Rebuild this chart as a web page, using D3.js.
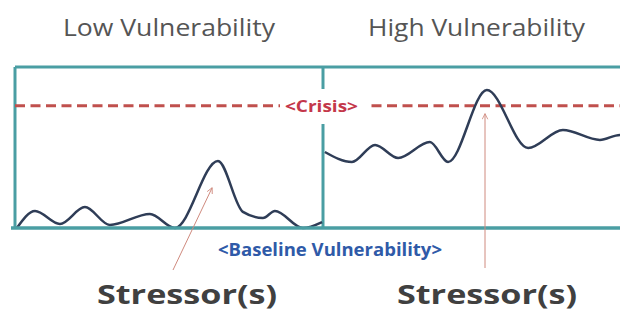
<!DOCTYPE html>
<html>
<head>
<meta charset="utf-8">
<script src="https://cdn.jsdelivr.net/npm/d3@7"></script>
<style>
  body { margin: 0; background: #fff; }
  svg { display: block; }
</style>
</head>
<body>
<svg id="chart"></svg>
<script>
// panel titles
const titles = ['Low Vulnerability', 'High Vulnerability'];

// low vulnerability trace (time 0-100)
const lowT = [0.6, 6.5, 14.6, 22.7, 30.8, 43.8, 51.9, 65.9, 74, 80.5, 84.4, 93.5, 99.7];
const lowV = [0, 10.6, 2.5, 13, 1.9, 8.7, 0, 41.6, 10, 6.2, 10.6, 0, 3.7];

// high vulnerability trace (time 100-200)
const highT = [100.6, 109.4, 116.9, 124.4, 134.7, 140.6, 153.2, 166.6, 177.9, 189.9, 196.4, 200];
const highV = [47.2, 41, 51.6, 43.5, 53.4, 41, 85.7, 49.7, 60.9, 54.7, 57.8, 55];

const crisisLevel = 76;

// stressor arrows point at these spots
const stressorT = [64, 152.6];
const stressorV = [25, 71];

const W = 620, H = 313;
const svg = d3.select('#chart').attr('width', W).attr('height', H);

const xscale = d3.scaleLinear().domain([0, 200]).range([15, 631]);
const yscale = d3.scaleLinear().domain([0, 100]).range([228, 67]);

const teal = '#4a9ea3';
const navy = '#2f3d57';
const arrowCol = '#cf8a7e';

svg.append('defs').append('marker')
      .attr('id', 'head')
      .attr('viewBox', '0 0 10 10')
      .attr('refX', 9).attr('refY', 5)
      .attr('markerWidth', 7).attr('markerHeight', 7)
      .attr('orient', 'auto')
      .append('path')
      .attr('d', 'M1,1 L9,5 L1,9')
      .attr('fill', 'none')
      .attr('stroke', arrowCol)
      .attr('stroke-width', 1.2);

// titles
const titleX = [63, 368], titleLen = [212, 217];
svg.selectAll('text.title')
      .data(titles)
      .join('text')
      .attr('class', 'title')
      .attr('x', (d, i) => titleX[i])
      .attr('y', 36)
      .attr('textLength', (d, i) => titleLen[i])
      .attr('lengthAdjust', 'spacingAndGlyphs')
      .style('font-family', '"Open Sans", sans-serif')
      .style('font-size', '24px')
      .style('fill', '#555')
      .text(d => d);

// frame
svg.append('line')
      .attr('x1', xscale(0)).attr('x2', W + 5)
      .attr('y1', yscale(100)).attr('y2', yscale(100))
      .attr('stroke', teal).attr('stroke-width', 3);
svg.append('line')
      .attr('x1', xscale(0)).attr('x2', xscale(0))
      .attr('y1', yscale(100)).attr('y2', yscale(0))
      .attr('stroke', teal).attr('stroke-width', 3);
svg.append('line')
      .attr('x1', xscale(100)).attr('x2', xscale(100))
      .attr('y1', yscale(100)).attr('y2', yscale(0))
      .attr('stroke', teal).attr('stroke-width', 3);

// crisis threshold
svg.append('line')
      .attr('x1', xscale(0)).attr('x2', W + 5)
      .attr('y1', yscale(crisisLevel)).attr('y2', yscale(crisisLevel))
      .attr('stroke', '#c0504d')
      .attr('stroke-width', 3)
      .attr('stroke-dasharray', '10,5.5');

svg.append('rect')
      .attr('x', 280).attr('y', 89)
      .attr('width', 86).attr('height', 35)
      .attr('fill', '#fff');

svg.append('text')
      .attr('x', 285)
      .attr('y', yscale(crisisLevel) + 6)
      .attr('textLength', 73)
      .attr('lengthAdjust', 'spacingAndGlyphs')
      .style('font-family', '"Open Sans", sans-serif')
      .style('font-size', '16px')
      .style('font-weight', 'bold')
      .style('fill', '#c4374a')
      .text('<Crisis>');

// traces
const line = d3.line()
      .x(d => xscale(d[0]))
      .y(d => yscale(d[1]))
      .curve(d3.curveMonotoneX);

[[lowT, lowV], [highT, highV]].forEach(s => {
      svg.append('path')
            .datum(d3.zip(s[0], s[1]))
            .attr('d', line)
            .attr('fill', 'none')
            .attr('stroke', navy)
            .attr('stroke-width', 2.5);
});

// baseline
svg.append('line')
      .attr('x1', 11).attr('x2', W + 5)
      .attr('y1', yscale(0)).attr('y2', yscale(0))
      .attr('stroke', teal).attr('stroke-width', 3.5);

svg.append('text')
      .attr('x', 218)
      .attr('y', 256)
      .attr('textLength', 224)
      .attr('lengthAdjust', 'spacingAndGlyphs')
      .style('font-family', '"Open Sans", sans-serif')
      .style('font-size', '17px')
      .style('font-weight', 'bold')
      .style('fill', '#2f5aa8')
      .text('<Baseline Vulnerability>');

// stressor arrows + labels
const tails = [[173, 270], [485, 268]];
stressorT.forEach((t, i) => {
      svg.append('line')
            .attr('x1', tails[i][0]).attr('y1', tails[i][1])
            .attr('x2', xscale(t)).attr('y2', yscale(stressorV[i]))
            .attr('stroke', arrowCol)
            .attr('stroke-width', 1)
            .attr('marker-end', 'url(#head)');
});

const stressX = [97, 397];
svg.selectAll('text.stressor')
      .data(stressorT)
      .join('text')
      .attr('class', 'stressor')
      .attr('x', (d, i) => stressX[i])
      .attr('y', 304)
      .attr('textLength', 180)
      .attr('lengthAdjust', 'spacingAndGlyphs')
      .style('font-family', '"Open Sans", sans-serif')
      .style('font-size', '26px')
      .style('font-weight', 'bold')
      .style('fill', '#404040')
      .text('Stressor(s)');
</script>
</body>
</html>
